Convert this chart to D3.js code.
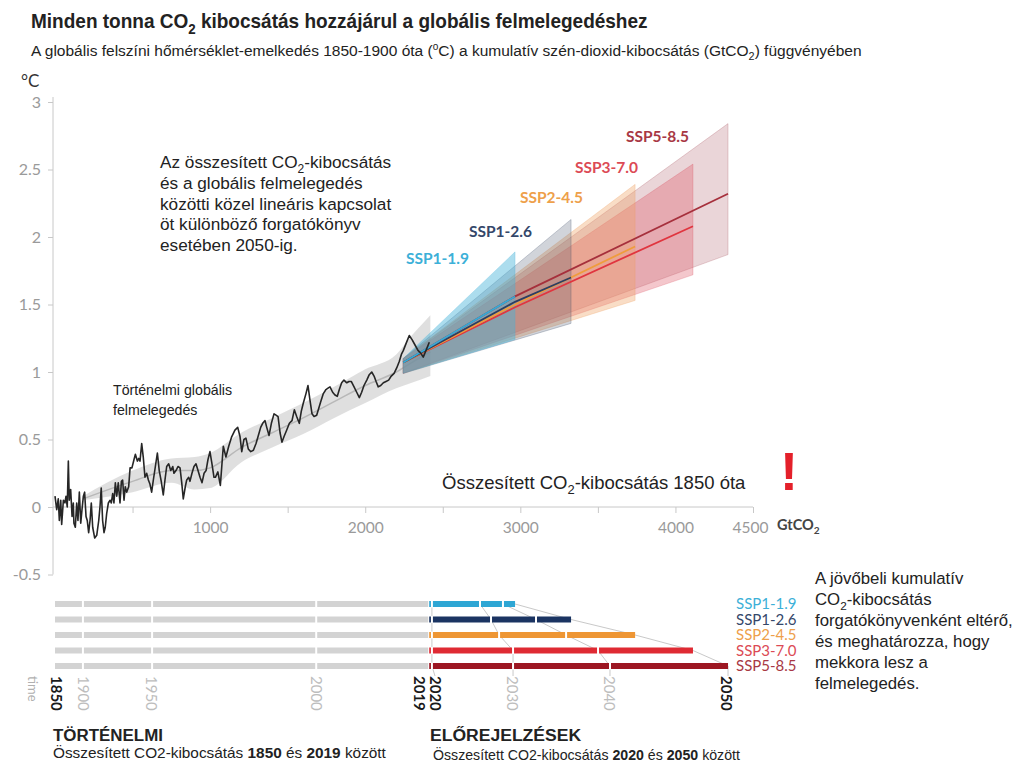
<!DOCTYPE html>
<html><head><meta charset="utf-8">
<script src="https://cdn.jsdelivr.net/npm/d3@7"></script>
<style>body{margin:0;background:#fff} svg{display:block}</style>
</head><body>
<svg id="c" width="1021" height="765"></svg>
<script>
// ---------------- DATA ----------------
const histPoints = [[0,0.08],[11,-0.02],[21,0.06],[28,-0.10],[37,0.05],[43,-0.13],[54,0.05],[64,0.03],[71,0.08],[79,0.00],[86,0.34],[92,0.05],[101,0.13],[110,-0.07],[118,0.03],[122,-0.12],[131,-0.15],[140,0.03],[148,-0.10],[157,0.11],[166,-0.12],[174,-0.02],[183,0.08],[191,0.11],[200,-0.07],[208,-0.10],[217,-0.19],[226,-0.10],[234,0.03],[243,-0.15],[256,-0.23],[269,-0.21],[282,-0.10],[290,0.00],[298,0.14],[307,-0.10],[316,-0.19],[324,-0.15],[333,-0.05],[344,0.03],[355,0.05],[363,0.03],[372,0.10],[380,0.03],[389,0.18],[398,0.08],[408,0.18],[419,0.03],[428,0.19],[436,0.20],[445,0.05],[453,0.15],[462,0.11],[475,0.15],[484,0.29],[496,0.29],[509,0.35],[518,0.39],[531,0.34],[540,0.36],[548,0.34],[559,0.47],[569,0.37],[580,0.22],[591,0.25],[602,0.20],[612,0.17],[623,0.11],[634,0.20],[647,0.30],[660,0.40],[672,0.27],[685,0.19],[698,0.09],[709,0.20],[720,0.30],[733,0.32],[746,0.27],[759,0.30],[767,0.25],[780,0.27],[793,0.30],[806,0.29],[817,0.18],[827,0.06],[840,0.15],[849,0.20],[862,0.22],[870,0.19],[883,0.25],[896,0.30],[909,0.32],[922,0.27],[935,0.22],[948,0.18],[961,0.25],[974,0.27],[986,0.35],[999,0.41],[1012,0.32],[1025,0.22],[1034,0.22],[1050,0.26],[1066,0.16],[1085,0.45],[1102,0.37],[1120,0.45],[1139,0.52],[1160,0.57],[1178,0.59],[1193,0.52],[1204,0.41],[1218,0.50],[1231,0.51],[1246,0.43],[1262,0.41],[1279,0.42],[1296,0.47],[1311,0.53],[1326,0.59],[1339,0.62],[1354,0.64],[1365,0.59],[1380,0.53],[1395,0.62],[1412,0.69],[1425,0.68],[1438,0.67],[1451,0.55],[1463,0.48],[1476,0.52],[1494,0.57],[1511,0.62],[1528,0.64],[1543,0.72],[1558,0.67],[1575,0.62],[1588,0.71],[1601,0.77],[1618,0.84],[1631,0.90],[1644,0.79],[1657,0.69],[1670,0.67],[1687,0.68],[1700,0.73],[1713,0.78],[1730,0.84],[1747,0.87],[1760,0.88],[1773,0.89],[1790,0.85],[1805,0.83],[1820,0.82],[1833,0.87],[1848,0.92],[1863,0.94],[1881,0.92],[1895,0.93],[1910,0.93],[1928,0.89],[1945,0.85],[1962,0.81],[1977,0.85],[1992,0.90],[2010,0.94],[2026,0.98],[2042,1.00],[2057,0.97],[2070,0.93],[2084,0.89],[2100,0.90],[2117,0.92],[2134,0.93],[2151,0.94],[2168,0.97],[2186,0.99],[2203,1.03],[2220,1.08],[2233,1.13],[2246,1.16],[2263,1.21],[2284,1.27],[2302,1.24],[2321,1.20],[2340,1.16],[2358,1.14],[2374,1.11],[2392,1.16],[2413,1.22]];

const bandCum   = [180, 500, 750, 900, 1000, 1200, 1400, 1600, 1800, 2000, 2200, 2300, 2420];
const bandUpper = [0.08, 0.27, 0.36, 0.37, 0.40, 0.55, 0.66, 0.77, 0.89, 1.02, 1.13, 1.27, 1.42];
const bandLower = [0.05, 0.11, 0.18, 0.13, 0.14, 0.33, 0.44, 0.54, 0.66, 0.77, 0.88, 0.92, 0.97];
const bandMid   = [0.06, 0.19, 0.27, 0.27, 0.29, 0.44, 0.55, 0.66, 0.78, 0.90, 1.00, 1.07, 1.15];

const sspNames = ["SSP1-1.9", "SSP1-2.6", "SSP2-4.5", "SSP3-7.0", "SSP5-8.5"];
const fanStartCum = 2245, fanStartLow = 0.99, fanStartHigh = 1.10;
const fanEndCum  = [2966, 3327, 3740, 4113, 4339];
const fanEndLow  = [1.24, 1.36, 1.53, 1.72, 1.87];
const fanEndHigh = [1.89, 2.13, 2.39, 2.54, 2.84];
const lineStartTemp = 1.07, lineMidCum = 2966;
const lineMidTemp = [1.56, 1.52, 1.50, 1.48, 1.56];
const lineEndTemp = [1.56, 1.70, 1.93, 2.08, 2.32];

const histYearCum = [0, 180, 626, 1684, 2406];   // 1850, 1900, 1950, 2000, 2019
const cum2020 = 2430;
const cum2030 = [2740, 2811, 2863, 2953, 2953];
const cum2040 = [2888, 3101, 3295, 3501, 3578];

const yearLabels   = ["1850", "1900", "1950", "2000", "2019", "2020", "2030", "2040", "2050"];
const yearLabelCum = [0, 180, 626, 1684, 2406, 2430, 2953, 3578, 4339];
const yearBold     = [true, false, false, false, true, true, false, false, true];

const yTicks = [-0.5, 0, 0.5, 1, 1.5, 2, 2.5, 3];
const xTicks = [500, 1000, 1500, 2000, 2500, 3000, 3500, 4000, 4500];
const xLabeled = [1000, 2000, 3000, 4000, 4500];

// ---------------- STYLE ----------------
const ARIAL = "'Liberation Sans', Arial, sans-serif";
const LATO = "Lato, 'Open Sans', sans-serif";
const lineCol  = ["#35aad6", "#2c3e62", "#ef9c3c", "#e0353f", "#a6303c"];
const labelCol = ["#3cb0d8", "#34476a", "#eea04a", "#dc4a55", "#a83844"];
const barCol   = ["#2ea6d4", "#1b3462", "#ee9634", "#df2a33", "#9c1622"];
const fanCol   = ["#48b4da", "#3d4a66", "#eea060", "#dc5060", "#a8505a"];
const fanOp    = [0.45, 0.24, 0.36, 0.32, 0.24];

const svg = d3.select("#c");
svg.append("rect").attr("width", 1021).attr("height", 765).attr("fill", "#fff");

const x = d3.scaleLinear().domain([0, 4500]).range([55, 753]);
const y = d3.scaleLinear().domain([-0.5, 3]).range([574.5, 102]);

function rich(sel, parts, fs) {
  let shift = 0;
  parts.forEach(([s, k]) => {
    const t = sel.append("tspan").text(s);
    let target = 0;
    if (k === "sub") { target = fs * 0.28; t.attr("font-size", fs * 0.7); }
    if (k === "sup") { target = -fs * 0.4; t.attr("font-size", fs * 0.65); }
    if (k === "b") t.attr("font-weight", "bold");
    const dy = target - shift;
    if (dy) t.attr("dy", dy);
    shift = target;
  });
}
function txt(px, py, parts, o) {
  const g = svg.append("g").attr("transform", `translate(${px},${py})`);
  const t = g.append("text").attr("font-size", o.fs).attr("font-family", o.fam || ARIAL)
    .attr("fill", o.fill || "#222").attr("font-weight", o.weight || "normal")
    .attr("text-anchor", o.anchor || "start");
  rich(t, typeof parts === "string" ? [[parts, ""]] : parts, o.fs);
  if (o.w) {
    const bw = t.node().getBBox().width;
    t.attr("transform", `scale(${o.w / bw},1)`);
  }
  return t;
}

// ---------------- TITLES ----------------
txt(31, 28, [["Minden tonna CO", ""], ["2", "sub"], [" kibocsátás hozzájárul a globális felmelegedéshez", ""]],
    { fs: 21, weight: "bold", fill: "#222", w: 617 });
txt(31, 56, [["A globális felszíni hőmérséklet-emelkedés 1850-1900 óta (", ""], ["o", "sup"], ["C) a kumulatív szén-dioxid-kibocsátás (GtCO", ""], ["2", "sub"], [") függvényében", ""]],
    { fs: 15.5, fill: "#222", w: 831 });

// ---------------- AXES ----------------
const yAxis = svg.append("g").attr("transform", "translate(53,0)")
  .call(d3.axisLeft(y).tickValues(yTicks).tickSize(5).tickSizeOuter(0).tickPadding(7).tickFormat(d => String(d)));
yAxis.select(".domain").attr("stroke", "#c8c8c8").attr("d", `M0,97V${y(-0.5)}`);
yAxis.selectAll(".tick line").attr("stroke", "#c8c8c8");
yAxis.selectAll(".tick text").attr("fill", "#9a9a9a").attr("font-size", 16).attr("font-family", LATO);
txt(21, 87, "°C", { fs: 17, fam: LATO, fill: "#333" });

const xAxis = svg.append("g").attr("transform", `translate(0,${y(0)})`)
  .call(d3.axisBottom(x).tickValues(xTicks).tickSize(6).tickSizeOuter(0).tickPadding(9)
    .tickFormat(d => xLabeled.includes(d) ? String(d) : ""));
xAxis.select(".domain").attr("stroke", "#c8c8c8").attr("d", `M53,0H${x(4500)}`);
xAxis.selectAll(".tick line").attr("stroke", "#c8c8c8");
xAxis.selectAll(".tick text").attr("fill", "#9a9a9a").attr("font-size", 15.5).attr("font-family", LATO);
xAxis.selectAll(".tick").filter(d => d === 4500).select("text").attr("dx", -3);
txt(777, 530, [["GtCO", ""], ["2", "sub"]], { fs: 14.5, fam: LATO, fill: "#444", weight: "bold" });

// ---------------- HISTORICAL BAND ----------------
const bandData = bandCum.map((c, i) => ({ c, u: bandUpper[i], l: bandLower[i], m: bandMid[i] }));
svg.append("path").datum(bandData)
  .attr("d", d3.area().x(d => x(d.c)).y0(d => y(d.l)).y1(d => y(d.u)).curve(d3.curveMonotoneX))
  .attr("fill", "#d4d4d4").attr("opacity", 0.75);
svg.append("path").datum(bandData)
  .attr("d", d3.line().x(d => x(d.c)).y(d => y(d.m)).curve(d3.curveMonotoneX))
  .attr("fill", "none").attr("stroke", "#b8b8b8").attr("stroke-width", 1.5);

// ---------------- FANS ----------------
const order = [4, 3, 2, 1, 0];
order.forEach(i => {
  const pts = [[fanStartCum, fanStartHigh], [fanEndCum[i], fanEndHigh[i]], [fanEndCum[i], fanEndLow[i]], [fanStartCum, fanStartLow]];
  svg.append("path").attr("d", d3.line().x(d => x(d[0])).y(d => y(d[1]))(pts) + "Z")
    .attr("fill", fanCol[i]).attr("fill-opacity", fanOp[i])
    .attr("stroke", fanCol[i]).attr("stroke-opacity", 0.25).attr("stroke-width", 1);
});
order.forEach(i => {
  const pts = [[fanStartCum, lineStartTemp], [lineMidCum, lineMidTemp[i]], [fanEndCum[i], lineEndTemp[i]]];
  svg.append("path").attr("d", d3.line().x(d => x(d[0])).y(d => y(d[1]))(pts))
    .attr("fill", "none").attr("stroke", lineCol[i]).attr("stroke-width", 1.8);
});

// ---------------- HISTORICAL LINE ----------------
svg.append("path").datum(histPoints)
  .attr("d", d3.line().x(d => x(d[0])).y(d => y(d[1])))
  .attr("fill", "none").attr("stroke", "#262626").attr("stroke-width", 1.6).attr("stroke-linejoin", "round");

// ---------------- SSP LABELS IN CHART ----------------
const chartLabelPos = [[406, 264], [469, 237], [520, 203], [575, 173], [626, 142]];
sspNames.forEach((n, i) => txt(chartLabelPos[i][0], chartLabelPos[i][1], n, { fs: 15.5, fam: LATO, fill: labelCol[i], weight: "bold" }));

// ---------------- ANNOTATIONS ----------------
const annFs = 17.2;
txt(160, 168, [["Az összesített CO", ""], ["2", "sub"], ["-kibocsátás", ""]], { fs: annFs, fill: "#222" });
txt(160, 189, "és a globális felmelegedés", { fs: annFs, fill: "#222" });
txt(160, 210, "közötti közel lineáris kapcsolat", { fs: annFs, fill: "#222" });
txt(160, 230, "öt különböző forgatókönyv", { fs: annFs, fill: "#222" });
txt(160, 251, "esetében 2050-ig.", { fs: annFs, fill: "#222" });

txt(113, 395, "Történelmi globális", { fs: 14.2, fill: "#222" });
txt(113, 415, "felmelegedés", { fs: 14.2, fill: "#222" });

txt(442, 489, [["Összesített CO", ""], ["2", "sub"], ["-kibocsátás 1850 óta", ""]], { fs: 18.5, fill: "#222" });
txt(789, 490, "!", { fs: 54, weight: "bold", fill: "#e4202a", anchor: "middle" });

const rightLines = [[["A jövőbeli kumulatív", ""]], [["CO", ""], ["2", "sub"], ["-kibocsátás", ""]], [["forgatókönyvenként eltérő,", ""]],
  [["és meghatározza, hogy", ""]], [["mekkora lesz a", ""]], [["felmelegedés.", ""]]];
rightLines.forEach((p, i) => txt(815, 584 + i * 21, p, { fs: 16.8, fill: "#222" }));

// ---------------- BOTTOM BARS ----------------
const row = d3.scalePoint().domain(sspNames).range([604, 666]);
const bh = 6;
const connector = (vals, endCum) => {
  const pts = sspNames.map((n, i) => [x(vals[i]), row(n)]);
  pts.push([x(endCum), 676]);
  svg.append("path").attr("d", d3.line()(pts)).attr("fill", "none").attr("stroke", "#c9c9c9").attr("stroke-width", 1);
};
connector(sspNames.map(() => cum2020), 2450);
connector(cum2030, 2953);
connector(cum2040, 3578);
connector(fanEndCum, 4339);

sspNames.forEach((n, i) => {
  const cy = row(n);
  svg.append("rect").attr("x", x(histYearCum[0])).attr("y", cy - bh / 2)
    .attr("width", x(histYearCum[4]) - x(histYearCum[0])).attr("height", bh).attr("fill", "#d3d3d3");
  svg.append("rect").attr("x", x(histYearCum[4]) + 1).attr("y", cy - bh / 2)
    .attr("width", x(fanEndCum[i]) - x(histYearCum[4]) - 1).attr("height", bh).attr("fill", barCol[i]);
  [histYearCum[1], histYearCum[2], histYearCum[3], cum2020, cum2030[i], cum2040[i]].forEach(c => {
    svg.append("rect").attr("x", x(c) - 1).attr("y", cy - bh / 2 - 0.5).attr("width", 2).attr("height", bh + 1).attr("fill", "#fff");
  });
  txt(736, cy + 5, n, { fs: 15, fam: LATO, fill: labelCol[i] });
});

const yearOff = [2, 1, 0, 1, -8, 4, 0, 0, -1];
yearLabels.forEach((lab, i) => {
  svg.append("text")
    .attr("transform", `translate(${x(yearLabelCum[i]) + yearOff[i]},676) rotate(90)`)
    .attr("dominant-baseline", "central")
    .attr("font-family", LATO).attr("font-size", 15)
    .attr("font-weight", yearBold[i] ? "bold" : "normal")
    .attr("fill", yearBold[i] ? "#1a1a1a" : "#bdbdbd")
    .text(lab);
});
svg.append("text").attr("transform", "translate(33,676) rotate(90)").attr("dominant-baseline", "central")
  .attr("font-family", LATO).attr("font-size", 13).attr("fill", "#b0b0b0").text("time");

txt(53, 741, "TÖRTÉNELMI", { fs: 17, weight: "bold", fill: "#222", w: 110 });
txt(53, 758, [["Összesített CO2-kibocsátás ", ""], ["1850", "b"], [" és ", ""], ["2019", "b"], [" között", ""]], { fs: 15, fill: "#222", w: 334 });
txt(430, 741, "ELŐREJELZÉSEK", { fs: 17, weight: "bold", fill: "#222", w: 152 });
txt(433, 760, [["Összesített CO2-kibocsátás ", ""], ["2020", "b"], [" és ", ""], ["2050", "b"], [" között", ""]], { fs: 15, fill: "#222", w: 308 });
</script></body></html>
